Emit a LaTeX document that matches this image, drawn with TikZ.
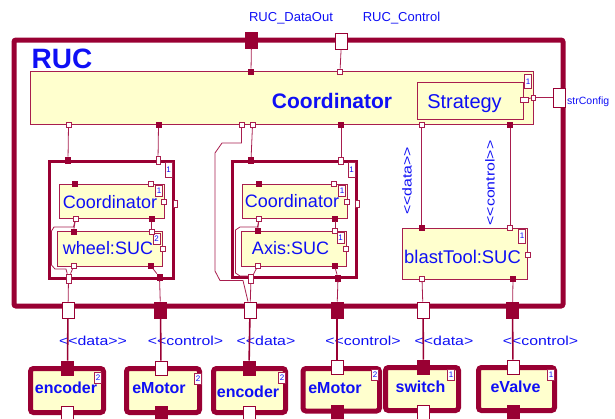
\documentclass[tikz,border=0pt]{standalone}
\usepackage{graphicx}
\usepackage{fontspec}
\setmainfont{Liberation Sans}
\definecolor{ucred}{RGB}{153,0,51}
\definecolor{ucline}{RGB}{168,30,78}
\definecolor{ucfill}{RGB}{255,255,206}
\definecolor{ucblue}{RGB}{15,15,245}
\newcommand{\stretchlbl}[1]{\scalebox{1.22}[1]{#1}}
\begin{document}
\begin{tikzpicture}[x=1pt,y=-1pt,
  frame/.style={draw=ucred,line width=5pt,rounded corners=2pt},
  compo/.style={draw=ucred,line width=3pt},
  partbox/.style={draw=ucline,fill=ucfill,line width=0.9pt,inner sep=0pt},
  devbox/.style={draw=ucred,fill=ucfill,line width=5pt,rounded corners=3pt,inner sep=0pt},
  pt/.style={draw=ucline,line width=0.7pt,inner sep=0pt,minimum width=5pt,minimum height=5pt},
  ptw/.style={pt,fill=white},
  ptf/.style={pt,draw=ucred,fill=ucred},
  bigw/.style={draw=ucred,line width=1pt,fill=white,inner sep=0pt,minimum width=12pt,minimum height=16pt},
  bigf/.style={bigw,fill=ucred},
  mult/.style={draw=ucline,fill=white,line width=0.6pt,inner sep=0pt,minimum width=7pt,minimum height=#1,anchor=north east,text=ucblue,font=\fontsize{8}{8}\selectfont},
  mult/.default=11pt,
  txt/.style={text=ucblue,anchor=base,inner sep=0pt},
  wire/.style={draw=ucline,line width=0.8pt},
  link/.style={draw=ucred,line width=1.6pt},
  stereo/.style={text=ucblue,inner sep=0pt,font=\fontsize{13}{13}\selectfont}]
\useasboundingbox (0,0) rectangle (615,418);
\clip (0,0) rectangle (615,418);

% RUC
\node[frame,minimum width=549pt,minimum height=266pt] (ruc) at (288.5,173) {};
\node[txt,font=\fontsize{28}{28}\selectfont\bfseries] (ruclbl) at (62,68) {RUC};
\node[txt,font=\fontsize{13}{13}\selectfont] (dolbl) at (291,21) {RUC\_DataOut};
\node[txt,font=\fontsize{13}{13}\selectfont] (ctlbl) at (401.5,21) {RUC\_Control};
\node[txt,font=\fontsize{10.5}{10.5}\selectfont,anchor=base west] (cfglbl) at (567,104) {strConfig};

% Coordinator / Strategy
\node[partbox,minimum width=503pt,minimum height=53pt] (coord) at (281.5,97.5) {};
\node[txt,font=\fontsize{21}{21}\selectfont\bfseries] (coordlbl) at (332,108) {Coordinator};
\node[mult=14pt] (coordm) at (532,74) {1};
\node[partbox,minimum width=106pt,minimum height=37pt] (strat) at (470,100.5) {};
\node[txt,font=\fontsize{20}{20}\selectfont] (stratlbl) at (464.5,108) {Strategy};

% wheel
\node[compo,minimum width=124pt,minimum height=117pt] (wheel) at (111,219.5) {};
\node[mult=15pt] (wheelm) at (172.5,161.5) {1};
\node[partbox,minimum width=105pt,minimum height=34.5pt] (whco) at (111.5,201.25) {};
\node[txt,font=\fontsize{18}{18}\selectfont] (whcolbl) at (110,208) {Coordinator};
\node[mult] (whcom) at (163,185) {1};
\node[partbox,minimum width=105pt,minimum height=34.5pt] (whsuc) at (110,248.75) {};
\node[txt,font=\fontsize{18}{18}\selectfont] (whsuclbl) at (108,254.5) {wheel:SUC};
\node[mult] (whsucm) at (160.5,232.5) {2};

% axis
\node[compo,minimum width=124.5pt,minimum height=116.5pt] (axis) at (294.25,219.25) {};
\node[mult=15pt] (axism) at (355.5,161.5) {1};
\node[partbox,minimum width=105pt,minimum height=34.5pt] (axco) at (294.5,201.25) {};
\node[txt,font=\fontsize{18}{18}\selectfont] (axcolbl) at (292,207) {Coordinator};
\node[mult] (axcom) at (346,185) {1};
\node[partbox,minimum width=105pt,minimum height=35pt] (axsuc) at (293.5,248.5) {};
\node[txt,font=\fontsize{18}{18}\selectfont] (axsuclbl) at (290.5,254) {Axis:SUC};
\node[mult] (axsucm) at (344.5,232) {1};

% blastTool
\node[partbox,minimum width=125pt,minimum height=51pt] (blast) at (464.5,253.5) {};
\node[txt,font=\fontsize{18.4}{18.4}\selectfont] (blastlbl) at (462.5,263) {blastTool:SUC};
\node[mult=14pt] (blastm) at (526,228.5) {1};
\node[stereo,rotate=90] (datav) at (407,181) {\stretchlbl{<\kern0pt<data>\kern0pt>}};
\node[stereo,rotate=90] (ctrlv) at (490,183) {\stretchlbl{<\kern0pt<control>\kern0pt>}};

% devices
\node[devbox,minimum width=73pt,minimum height=44pt] (enc1) at (67,390.5) {};
\node[devbox,minimum width=73pt,minimum height=44pt] (mot1) at (163,390.5) {};
\node[devbox,minimum width=72pt,minimum height=44pt] (enc2) at (249.5,390.5) {};
\node[devbox,minimum width=76.5pt,minimum height=42.5pt] (mot2) at (341.25,389.75) {};
\node[devbox,minimum width=73pt,minimum height=43pt] (sw) at (422,389) {};
\node[devbox,minimum width=76pt,minimum height=43pt] (valve) at (516.5,389) {};
\node[txt,font=\fontsize{16}{16}\selectfont\bfseries] (enc1lbl) at (66,393) {encoder};
\node[txt,font=\fontsize{16}{16}\selectfont\bfseries] (mot1lbl) at (159,393) {eMotor};
\node[txt,font=\fontsize{16}{16}\selectfont\bfseries] (enc2lbl) at (248,397) {encoder};
\node[txt,font=\fontsize{16}{16}\selectfont\bfseries] (mot2lbl) at (335,393) {eMotor};
\node[txt,font=\fontsize{16}{16}\selectfont\bfseries] (swlbl) at (420.5,392) {switch};
\node[txt,font=\fontsize{16}{16}\selectfont\bfseries] (valvelbl) at (515.5,392) {eValve};
\node[mult] (enc1m) at (102,372) {2};
\node[mult] (mot1m) at (202,373) {2};
\node[mult] (enc2m) at (286,372) {2};
\node[mult] (mot2m) at (379,369) {2};
\node[mult] (swm) at (455,369) {1};
\node[mult] (valvem) at (555,369) {1};

% stereotypes on the links
\node[stereo,anchor=base] (st1) at (93,345) {\stretchlbl{<\kern0pt<data>\kern0pt>}};
\node[stereo,anchor=base] (st2) at (185.5,345) {\stretchlbl{<\kern0pt<control>}};
\node[stereo,anchor=base] (st3) at (266,345) {\stretchlbl{<\kern0pt<data>}};
\node[stereo,anchor=base] (st4) at (363,345) {\stretchlbl{<\kern0pt<control>}};
\node[stereo,anchor=base] (st5) at (444,345) {\stretchlbl{<\kern0pt<data>}};
\node[stereo,anchor=base] (st6) at (540.5,345) {\stretchlbl{<\kern0pt<control>}};

% ports
\node[bigf] (rdo) at (251.5,40) {};
\node[bigw] (rct) at (341.5,41) {};
\node[bigw,minimum height=19pt] (rcfg) at (559.5,97.5) {};
\node[bigw] (rb1) at (68,310) {};
\node[bigf] (rb2) at (160.5,310) {};
\node[bigw] (rb3) at (250,310) {};
\node[bigf] (rb4) at (337,310) {};
\node[bigw] (rb5) at (423,310) {};
\node[bigf] (rb6) at (512.5,310) {};

\node[ptf] (ct1) at (251,71.5) {};
\node[ptw] (ct2) at (340,71.5) {};
\node[ptw,minimum width=4pt] (cr) at (533.5,97.5) {};
\node[ptw,minimum width=8pt] (sr) at (524,99.5) {};
\node[ptw] (cb1) at (68.5,125) {};
\node[ptf] (cb2) at (158.5,125) {};
\node[ptw] (cb3) at (241.5,125) {};
\node[ptw] (cb4) at (252.5,125) {};
\node[ptf] (cb5) at (341,125) {};
\node[ptw] (cb6) at (421.5,125) {};
\node[ptf] (cb7) at (510,125) {};

\node[ptf,minimum height=6pt] (wt1) at (68,160) {};
\node[ptw,minimum width=4pt,minimum height=8pt] (wt2) at (158,160) {};
\node[ptw,minimum width=4pt,minimum height=7pt] (wr) at (175,203.5) {};
\node[ptw,minimum height=9pt] (wb1) at (68.5,278.5) {};
\node[ptf,minimum height=6pt] (wb2) at (159.5,277) {};
\node[ptf] (hot1) at (75,184) {};
\node[ptw] (hot2) at (150.5,184) {};
\node[ptw] (hor) at (164,201.5) {};
\node[ptw] (hob1) at (75.5,219) {};
\node[ptf] (hob2) at (151.5,219) {};
\node[ptf] (hst1) at (73.5,231.5) {};
\node[ptw] (hst2) at (151.5,231.5) {};
\node[ptw] (hsr) at (162.5,249) {};
\node[ptw] (hsb1) at (74,265.5) {};
\node[ptf] (hsb2) at (150.5,265.5) {};

\node[ptf,minimum height=6pt] (at1) at (251,160.5) {};
\node[ptw,minimum height=7pt] (at2) at (341,160.5) {};
\node[ptw,minimum width=4pt,minimum height=7pt] (ar) at (357.5,204) {};
\node[ptw,minimum height=9pt] (ab1) at (251,279) {};
\node[ptf,minimum height=6pt] (ab2) at (338,278) {};
\node[ptf] (xot1) at (258.5,184) {};
\node[ptw] (xot2) at (333.5,184) {};
\node[ptw] (xor) at (347,202) {};
\node[ptw] (xob1) at (259,219) {};
\node[ptf] (xob2) at (335,218.5) {};
\node[ptf] (xst1) at (257.5,231) {};
\node[ptw] (xst2) at (335,231) {};
\node[ptw] (xsr) at (346,248.5) {};
\node[ptw] (xsb1) at (258,265.5) {};
\node[ptf] (xsb2) at (334.5,265.5) {};

\node[ptf] (bt1) at (421.5,228) {};
\node[ptw] (bt2) at (510,228) {};
\node[ptw] (br) at (527.5,254.5) {};
\node[ptw] (bb1) at (422,279) {};
\node[ptf] (bb2) at (513,279) {};

\node[bigf,minimum height=14pt] (d1t) at (67.5,368) {};
\node[bigw,minimum height=14pt] (d1b) at (67,413) {};
\node[bigw,minimum height=14pt] (d2t) at (161,368) {};
\node[bigf,minimum height=14pt] (d2b) at (161,413) {};
\node[bigf,minimum height=14pt] (d3t) at (249,368) {};
\node[bigw,minimum height=14pt] (d3b) at (249,413) {};
\node[bigw,minimum height=14pt] (d4t) at (337,367) {};
\node[bigf,minimum height=14pt] (d4b) at (337,412) {};
\node[bigf,minimum height=14pt] (d5t) at (423.5,367) {};
\node[bigw,minimum height=14pt] (d5b) at (423.5,412) {};
\node[bigw,minimum height=14pt] (d6t) at (513,367) {};
\node[bigf,minimum height=14pt] (d6b) at (513,412) {};

% connectors
\draw[wire] (rdo) -- (ct1);
\draw[wire] (rct) -- (ct2);
\draw[wire] (sr) -- (cr);
\draw[wire] (cr) -- (rcfg);
\draw[wire] (cb1) -- (wt1);
\draw[wire] (cb2) -- (wt2);
\draw[wire] (cb4) -- (at1);
\draw[wire] (cb5) -- (at2);
\draw[wire] (cb6) -- (bt1);
\draw[wire] (cb7) -- (bt2);
\draw[wire] (cb3) -- (241.5,143) -- (222,143) -- (215,153) -- (215,271) -- (220,280.5) -- (243,280.5) -- (rb3);

\draw[wire] (hob1) -- (hst1);
\draw[wire] (hob2) -- (hst2);
\draw[wire] (hob1) -- (73.5,227) -- (54,227) -- (51.5,231) -- (51.5,265) -- (55,269) -- (66,269) -- (wb1);
\draw[wire] (hsb1) -- (wb1);
\draw[wire] (hsb2) -- (wb2);
\draw[wire] (wb1) -- (rb1);
\draw[wire] (wb2) -- (rb2);

\draw[wire] (xob1) -- (xst1);
\draw[wire] (xob2) -- (xst2);
\draw[wire] (xob1) -- (257.5,227) -- (240,227) -- (235.5,230) -- (235.5,273) -- (240,276) -- (248,276) -- (ab1);
\draw[wire] (xsb1) -- (ab1);
\draw[wire] (xsb2) -- (ab2);
\draw[wire] (ab1) -- (rb3);
\draw[wire] (ab2) -- (rb4);

\draw[wire] (bb1) -- (rb5);
\draw[wire] (bb2) -- (rb6);

\draw[link] (rb1) -- (d1t);
\draw[link] (rb2) -- (d2t);
\draw[link] (rb3) -- (d3t);
\draw[link] (rb4) -- (d4t);
\draw[link] (rb5) -- (d5t);
\draw[link] (rb6) -- (d6t);
\end{tikzpicture}
\end{document}
